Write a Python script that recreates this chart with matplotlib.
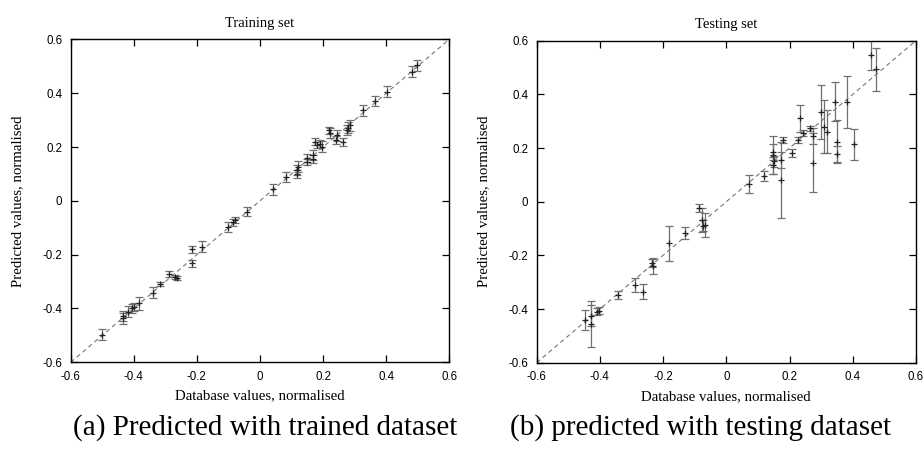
import matplotlib
matplotlib.use("Agg")
import matplotlib.pyplot as plt

# ---- data ----
tick_vals = [-0.6, -0.4, -0.2, 0.0, 0.2, 0.4, 0.6]
tick_labels = ["-0.6", "-0.4", "-0.2", "0", "0.2", "0.4", "0.6"]

train_x = [0.497, 0.481, 0.402, 0.365, 0.327, 0.285, 0.280, 0.275, 0.243, 0.222,
           0.220, 0.264, 0.241, 0.196, 0.190, 0.180, 0.175, 0.169, 0.169, 0.148,
           0.148, 0.121, 0.116, 0.116, 0.082, 0.042, -0.040, -0.079, -0.087, -0.100,
           -0.185, -0.216, -0.216, -0.262, -0.270, -0.287, -0.317, -0.340, -0.383,
           -0.399, -0.406, -0.417, -0.433, -0.433, -0.502]
train_y = [0.504, 0.480, 0.405, 0.371, 0.337, 0.281, 0.272, 0.263, 0.244, 0.251,
           0.262, 0.220, 0.227, 0.201, 0.210, 0.207, 0.220, 0.170, 0.157, 0.158,
           0.145, 0.127, 0.115, 0.100, 0.089, 0.043, -0.040, -0.071, -0.080, -0.096,
           -0.170, -0.180, -0.232, -0.286, -0.283, -0.272, -0.310, -0.341, -0.381,
           -0.396, -0.400, -0.412, -0.428, -0.436, -0.498]
train_err = [0.020, 0.020, 0.020, 0.020, 0.020, 0.020, 0.020, 0.020, 0.020, 0.018,
             0.012, 0.015, 0.015, 0.020, 0.015, 0.012, 0.012, 0.018, 0.015, 0.015,
             0.012, 0.020, 0.020, 0.015, 0.020, 0.020, 0.018, 0.012, 0.012, 0.018,
             0.020, 0.012, 0.012, 0.008, 0.008, 0.012, 0.008, 0.020, 0.025,
             0.015, 0.015, 0.020, 0.020, 0.020, 0.020]

test_x = [0.457, 0.473, 0.381, 0.344, 0.349, 0.349, 0.404, 0.233, 0.300, 0.310,
          0.320, 0.275, 0.275, 0.265, 0.244, 0.228, 0.207, 0.178, 0.172, 0.172,
          0.149, 0.147, 0.150, 0.148, 0.119, 0.073, -0.086, -0.078, -0.068, -0.075,
          -0.131, -0.180, -0.236, -0.233, -0.289, -0.265, -0.342, -0.402, -0.410,
          -0.428, -0.428, -0.447]
test_y = [0.547, 0.493, 0.373, 0.373, 0.224, 0.177, 0.214, 0.311, 0.335, 0.280,
          0.260, 0.245, 0.145, 0.273, 0.255, 0.230, 0.183, 0.230, 0.081, 0.155,
          0.186, 0.175, 0.150, 0.135, 0.096, 0.066, -0.025, -0.068, -0.087, -0.090,
          -0.116, -0.155, -0.230, -0.240, -0.311, -0.335, -0.348, -0.406, -0.410,
          -0.425, -0.455, -0.441]
test_err = [0.055, 0.081, 0.097, 0.073, 0.080, 0.030, 0.057, 0.050, 0.100, 0.100,
            0.080, 0.030, 0.110, 0.010, 0.012, 0.012, 0.015, 0.012, 0.143, 0.030,
            0.030, 0.070, 0.020, 0.030, 0.020, 0.034, 0.015, 0.045, 0.045, 0.020,
            0.022, 0.065, 0.015, 0.030, 0.025, 0.027, 0.015, 0.012, 0.012,
            0.040, 0.085, 0.037]

titles = ["Training set", "Testing set"]
xlabel = "Database values, normalised"
ylabel = "Predicted values, normalised"
captions = ["(a) Predicted with trained dataset", "(b) predicted with testing dataset"]

# ---- figure ----
fig = plt.figure(figsize=(9.24, 4.66), dpi=100)
serif = ["Liberation Serif", "DejaVu Serif"]
sans = ["Liberation Sans", "DejaVu Sans"]

ax_rects = [[0.0765, 0.2225, 0.4097, 0.693], [0.5808, 0.2217, 0.4105, 0.691]]
datasets = [(train_x, train_y, train_err), (test_x, test_y, test_err)]

for rect, (xs, ys, es), title in zip(ax_rects, datasets, titles):
    ax = fig.add_axes(rect)
    ax.plot(tick_vals, tick_vals, linestyle=(0, (4, 3)), color="#777777", lw=0.8, zorder=1)
    ax.errorbar(xs, ys, yerr=es, fmt="+", color="#222222", ecolor="#707070",
                elinewidth=0.9, capsize=3, capthick=0.9, markersize=5,
                markeredgewidth=0.9, zorder=2)
    ax.set_xlim(-0.6, 0.6)
    ax.set_ylim(-0.6, 0.6)
    ax.set_xticks(tick_vals)
    ax.set_yticks(tick_vals)
    ax.set_xticklabels(tick_labels, family=sans, fontsize=8.3)
    ax.set_yticklabels(tick_labels, family=sans, fontsize=8.3)
    ax.tick_params(direction="in", length=5, width=0.9, top=True, right=True, pad=6)
    for s in ax.spines.values():
        s.set_linewidth(1.0)
    ax.set_title(title, family=serif, fontsize=10.5, pad=9)
    ax.set_xlabel(xlabel, family=serif, fontsize=10.7, labelpad=5)
    ax.set_ylabel(ylabel, family=serif, fontsize=10.7, labelpad=13)

fig.text(265 / 924, 1 - 428 / 466, captions[0], family=serif, fontsize=21,
         ha="center", va="center")
fig.text(701 / 924, 1 - 428 / 466, captions[1], family=serif, fontsize=21,
         ha="center", va="center")

fig.savefig("out.png", dpi=100)
